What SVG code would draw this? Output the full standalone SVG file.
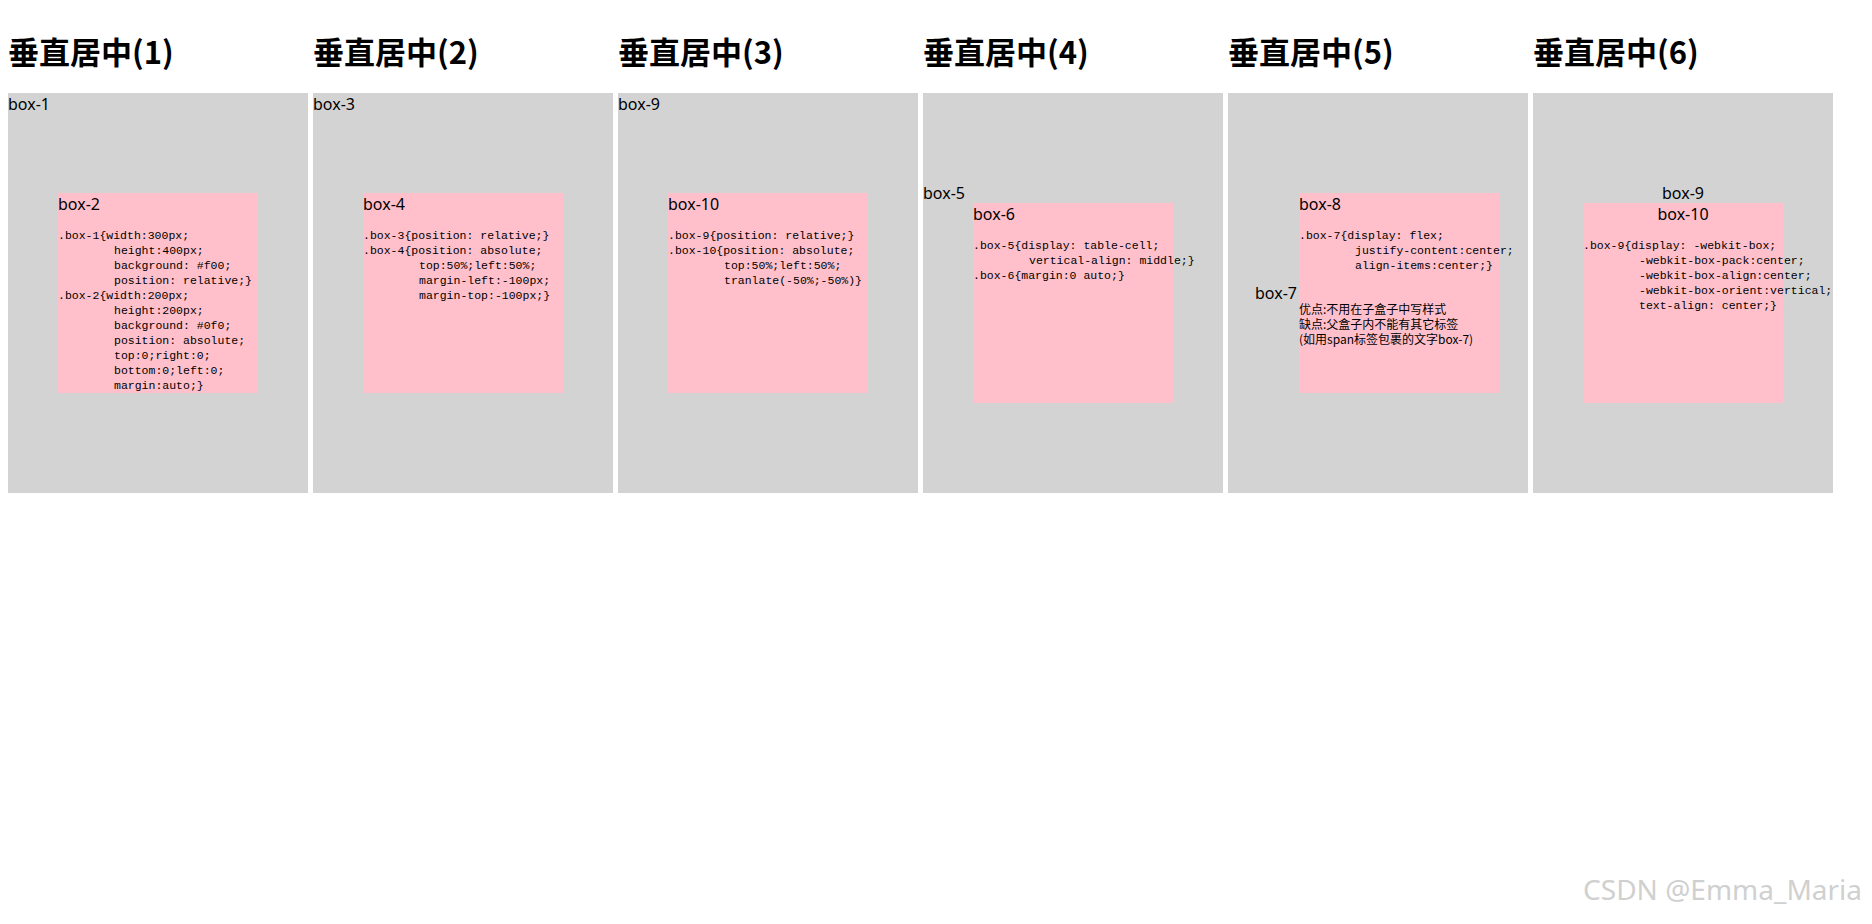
<svg xmlns="http://www.w3.org/2000/svg" width="1872" height="924" viewBox="0 0 1872 924">
<style>
.t{font-family:"Noto Sans CJK SC","Noto Sans",sans-serif;font-weight:bold;font-size:31px;fill:#000}
.g{fill:#d3d3d3}
.p{fill:#ffc0cb}
.l{font-family:"Noto Sans","Noto Sans CJK SC",sans-serif;font-size:16px;fill:#000}
.c{font-family:"Liberation Mono","Noto Sans CJK SC",monospace;font-size:11.5px;fill:#000}
.z{font-family:"Noto Sans CJK SC","Noto Sans",sans-serif;font-size:12px;fill:#000}
.w{font-family:"Noto Sans","Liberation Sans",sans-serif;font-size:28px;fill:#d0d0d0}
</style>
<rect width="1872" height="924" fill="#fff"/>
<g id="titles">
<text class="t" x="8" y="64">垂直居中(1)</text>
<text class="t" x="313" y="64">垂直居中(2)</text>
<text class="t" x="618" y="64">垂直居中(3)</text>
<text class="t" x="923" y="64">垂直居中(4)</text>
<text class="t" x="1228" y="64">垂直居中(5)</text>
<text class="t" x="1533" y="64">垂直居中(6)</text>
</g>
<g id="box-1"><rect class="g" x="8" y="93" width="300" height="400"/><text class="l" x="8" y="110">box-1</text></g>
<g id="box-2"><rect class="p" x="58" y="193" width="200" height="200"/><text class="l" x="58" y="210">box-2</text>
<text class="c" x="58" y="239">.box-1{width:300px;</text>
<text class="c" x="114" y="254">height:400px;</text>
<text class="c" x="114" y="269">background: #f00;</text>
<text class="c" x="114" y="284">position: relative;}</text>
<text class="c" x="58" y="299">.box-2{width:200px;</text>
<text class="c" x="114" y="314">height:200px;</text>
<text class="c" x="114" y="329">background: #0f0;</text>
<text class="c" x="114" y="344">position: absolute;</text>
<text class="c" x="114" y="359">top:0;right:0;</text>
<text class="c" x="114" y="374">bottom:0;left:0;</text>
<text class="c" x="114" y="389">margin:auto;}</text>
</g>
<g id="box-3"><rect class="g" x="313" y="93" width="300" height="400"/><text class="l" x="313" y="110">box-3</text></g>
<g id="box-4"><rect class="p" x="363" y="193" width="200" height="200"/><text class="l" x="363" y="210">box-4</text>
<text class="c" x="363" y="239">.box-3{position: relative;}</text>
<text class="c" x="363" y="254">.box-4{position: absolute;</text>
<text class="c" x="419" y="269">top:50%;left:50%;</text>
<text class="c" x="419" y="284">margin-left:-100px;</text>
<text class="c" x="419" y="299">margin-top:-100px;}</text>
</g>
<g id="box-9a"><rect class="g" x="618" y="93" width="300" height="400"/><text class="l" x="618" y="110">box-9</text></g>
<g id="box-10a"><rect class="p" x="668" y="193" width="200" height="200"/><text class="l" x="668" y="210">box-10</text>
<text class="c" x="668" y="239">.box-9{position: relative;}</text>
<text class="c" x="668" y="254">.box-10{position: absolute;</text>
<text class="c" x="724" y="269">top:50%;left:50%;</text>
<text class="c" x="724" y="284">tranlate(-50%;-50%)}</text>
</g>
<g id="box-5"><rect class="g" x="923" y="93" width="300" height="400"/><text class="l" x="923" y="199">box-5</text></g>
<g id="box-6"><rect class="p" x="973" y="203" width="200" height="200"/><text class="l" x="973" y="220">box-6</text>
<text class="c" x="973" y="249">.box-5{display: table-cell;</text>
<text class="c" x="1029" y="264">vertical-align: middle;}</text>
<text class="c" x="973" y="279">.box-6{margin:0 auto;}</text>
</g>
<g id="box-7"><rect class="g" x="1228" y="93" width="300" height="400"/><text class="l" x="1297" y="299" text-anchor="end">box-7</text></g>
<g id="box-8"><rect class="p" x="1299" y="193" width="200" height="200"/><text class="l" x="1299" y="210">box-8</text>
<text class="c" x="1299" y="239">.box-7{display: flex;</text>
<text class="c" x="1355" y="254">justify-content:center;</text>
<text class="c" x="1355" y="269">align-items:center;}</text>
<text class="z" x="1299" y="314">优点:不用在子盒子中写样式</text>
<text class="z" x="1299" y="329">缺点:父盒子内不能有其它标签</text>
<text class="z" x="1299" y="344">(如用span标签包裹的文字box-7)</text>
</g>
<g id="box-9"><rect class="g" x="1533" y="93" width="300" height="400"/><text class="l" x="1683" y="199" text-anchor="middle">box-9</text></g>
<g id="box-10"><rect class="p" x="1583" y="203" width="200" height="200"/><text class="l" x="1683" y="220" text-anchor="middle">box-10</text>
<text class="c" x="1583" y="249">.box-9{display: -webkit-box;</text>
<text class="c" x="1639" y="264">-webkit-box-pack:center;</text>
<text class="c" x="1639" y="279">-webkit-box-align:center;</text>
<text class="c" x="1639" y="294">-webkit-box-orient:vertical;</text>
<text class="c" x="1639" y="309">text-align: center;}</text>
</g>
<g id="connectors"/>
<text class="w" x="1862" y="900" text-anchor="end">CSDN @Emma_Maria</text>
</svg>
